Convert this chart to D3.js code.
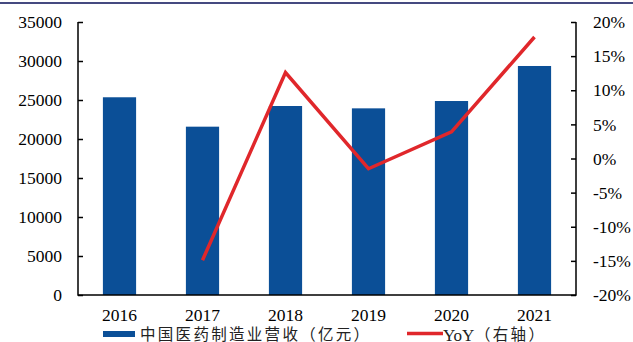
<!DOCTYPE html>
<html>
<head>
<meta charset="utf-8">
<script src="https://cdn.jsdelivr.net/npm/d3@7"></script>
<style>
  html, body { margin: 0; padding: 0; background: #fff; }
  svg { display: block; }
</style>
</head>
<body>
<svg id="chart" width="633" height="342"></svg>
<script>
// Revenue of China's pharmaceutical manufacturing (100 million yuan) and YoY growth
const years = ["2016", "2017", "2018", "2019", "2020", "2021"];
const revenue = [25350, 21580, 24230, 23930, 24870, 29360];
const yoy = [null, -14.9, 12.6, -1.5, 3.9, 17.8];
const leftTicks = [0, 5000, 10000, 15000, 20000, 25000, 30000, 35000];
const rightTicks = [-20, -15, -10, -5, 0, 5, 10, 15, 20];
const legendLabels = ["中国医药制造业营收（亿元）", "YoY", "（右轴）"];

const svg = d3.select("#chart");
const W = 633, H = 342;
const plotLeft = 78, plotRight = 576, plotTop = 22, plotBottom = 295;
const barColor = "#0b4f97", lineColor = "#e0272b";
const numFont = "'Liberation Serif', 'Times New Roman', serif";
const cjkFont = "'Noto Sans CJK SC', sans-serif";

// Top rule
svg.append("rect").attr("x", 0).attr("y", 2).attr("width", W).attr("height", 2).attr("fill", "#454a80");

const x = d3.scaleBand().domain(years).range([plotLeft, plotRight]).paddingInner(0.6).paddingOuter(0.3);
const yL = d3.scaleLinear().domain([0, 35000]).range([plotBottom, plotTop]);
const yR = d3.scaleLinear().domain([-20, 20]).range([plotBottom, plotTop]);

// Bars
svg.append("g").selectAll("rect").data(years).join("rect")
  .attr("x", d => x(d))
  .attr("width", x.bandwidth())
  .attr("y", (d, i) => yL(revenue[i]))
  .attr("height", (d, i) => yL(0) - yL(revenue[i]))
  .attr("fill", barColor);

// YoY line
const pts = years.map((d, i) => ({ d, v: yoy[i] })).filter(p => p.v !== null);
svg.append("path")
  .datum(pts)
  .attr("fill", "none")
  .attr("stroke", lineColor)
  .attr("stroke-width", 3.5)
  .attr("stroke-linejoin", "miter")
  .attr("d", d3.line().x(p => x(p.d) + x.bandwidth() / 2).y(p => yR(p.v)));

// Axes (ticks point inward)
const leftAxis = svg.append("g").attr("transform", `translate(${plotLeft},0)`)
  .call(d3.axisRight(yL).tickValues(leftTicks).tickSize(5).tickFormat(""));
const rightAxis = svg.append("g").attr("transform", `translate(${plotRight},0)`)
  .call(d3.axisLeft(yR).tickValues(rightTicks).tickSize(5).tickFormat(""));
[leftAxis, rightAxis].forEach(g => {
  g.selectAll("line").attr("stroke", "#000").attr("stroke-width", 1.5);
  g.select(".domain").remove();
});
// Frame lines (left, bottom, right)
svg.append("path")
  .attr("d", `M${plotLeft},${plotTop}V${plotBottom}H${plotRight}V${plotTop}`)
  .attr("fill", "none").attr("stroke", "#000").attr("stroke-width", 1.5);

// Tick labels
svg.append("g").selectAll("text").data(leftTicks).join("text")
  .attr("x", 62).attr("y", d => yL(d)).attr("dy", "0.35em")
  .attr("text-anchor", "end")
  .attr("font-family", numFont).attr("font-size", 17.5).attr("fill", "#000")
  .text(d => d);
svg.append("g").selectAll("text").data(rightTicks).join("text")
  .attr("x", 593).attr("y", d => yR(d)).attr("dy", "0.35em")
  .attr("text-anchor", "start")
  .attr("font-family", numFont).attr("font-size", 17.5).attr("fill", "#000")
  .text(d => d + "%");
svg.append("g").selectAll("text").data(years).join("text")
  .attr("x", d => x(d) + x.bandwidth() / 2).attr("y", 321)
  .attr("text-anchor", "middle")
  .attr("font-family", numFont).attr("font-size", 17.5).attr("fill", "#000")
  .text(d => d);

// Legend: CJK glyphs on a wide, even pitch
const pitch = 17.8;
const spaced = (str, x0) => Array.from(str).map((c, i) => (x0 + i * pitch).toFixed(1)).join(" ");
const lg = svg.append("g");
lg.append("rect").attr("x", 103).attr("y", 331).attr("width", 32).attr("height", 6).attr("fill", barColor);
lg.append("text").attr("x", spaced(legendLabels[0], 140)).attr("y", 340)
  .attr("font-family", cjkFont).attr("font-size", 15.5)
  .attr("fill", "#222")
  .text(legendLabels[0]);
lg.append("line").attr("x1", 407).attr("x2", 443).attr("y1", 333.5).attr("y2", 333.5)
  .attr("stroke", lineColor).attr("stroke-width", 3.5);
lg.append("text").attr("x", 443).attr("y", 341).attr("fill", "#222")
  .attr("font-family", numFont).attr("font-size", 17).text(legendLabels[1]);
lg.append("text").attr("x", spaced(legendLabels[2], 475)).attr("y", 340).attr("fill", "#222")
  .attr("font-family", cjkFont).attr("font-size", 15.5)
  .text(legendLabels[2]);
</script>
</body>
</html>
